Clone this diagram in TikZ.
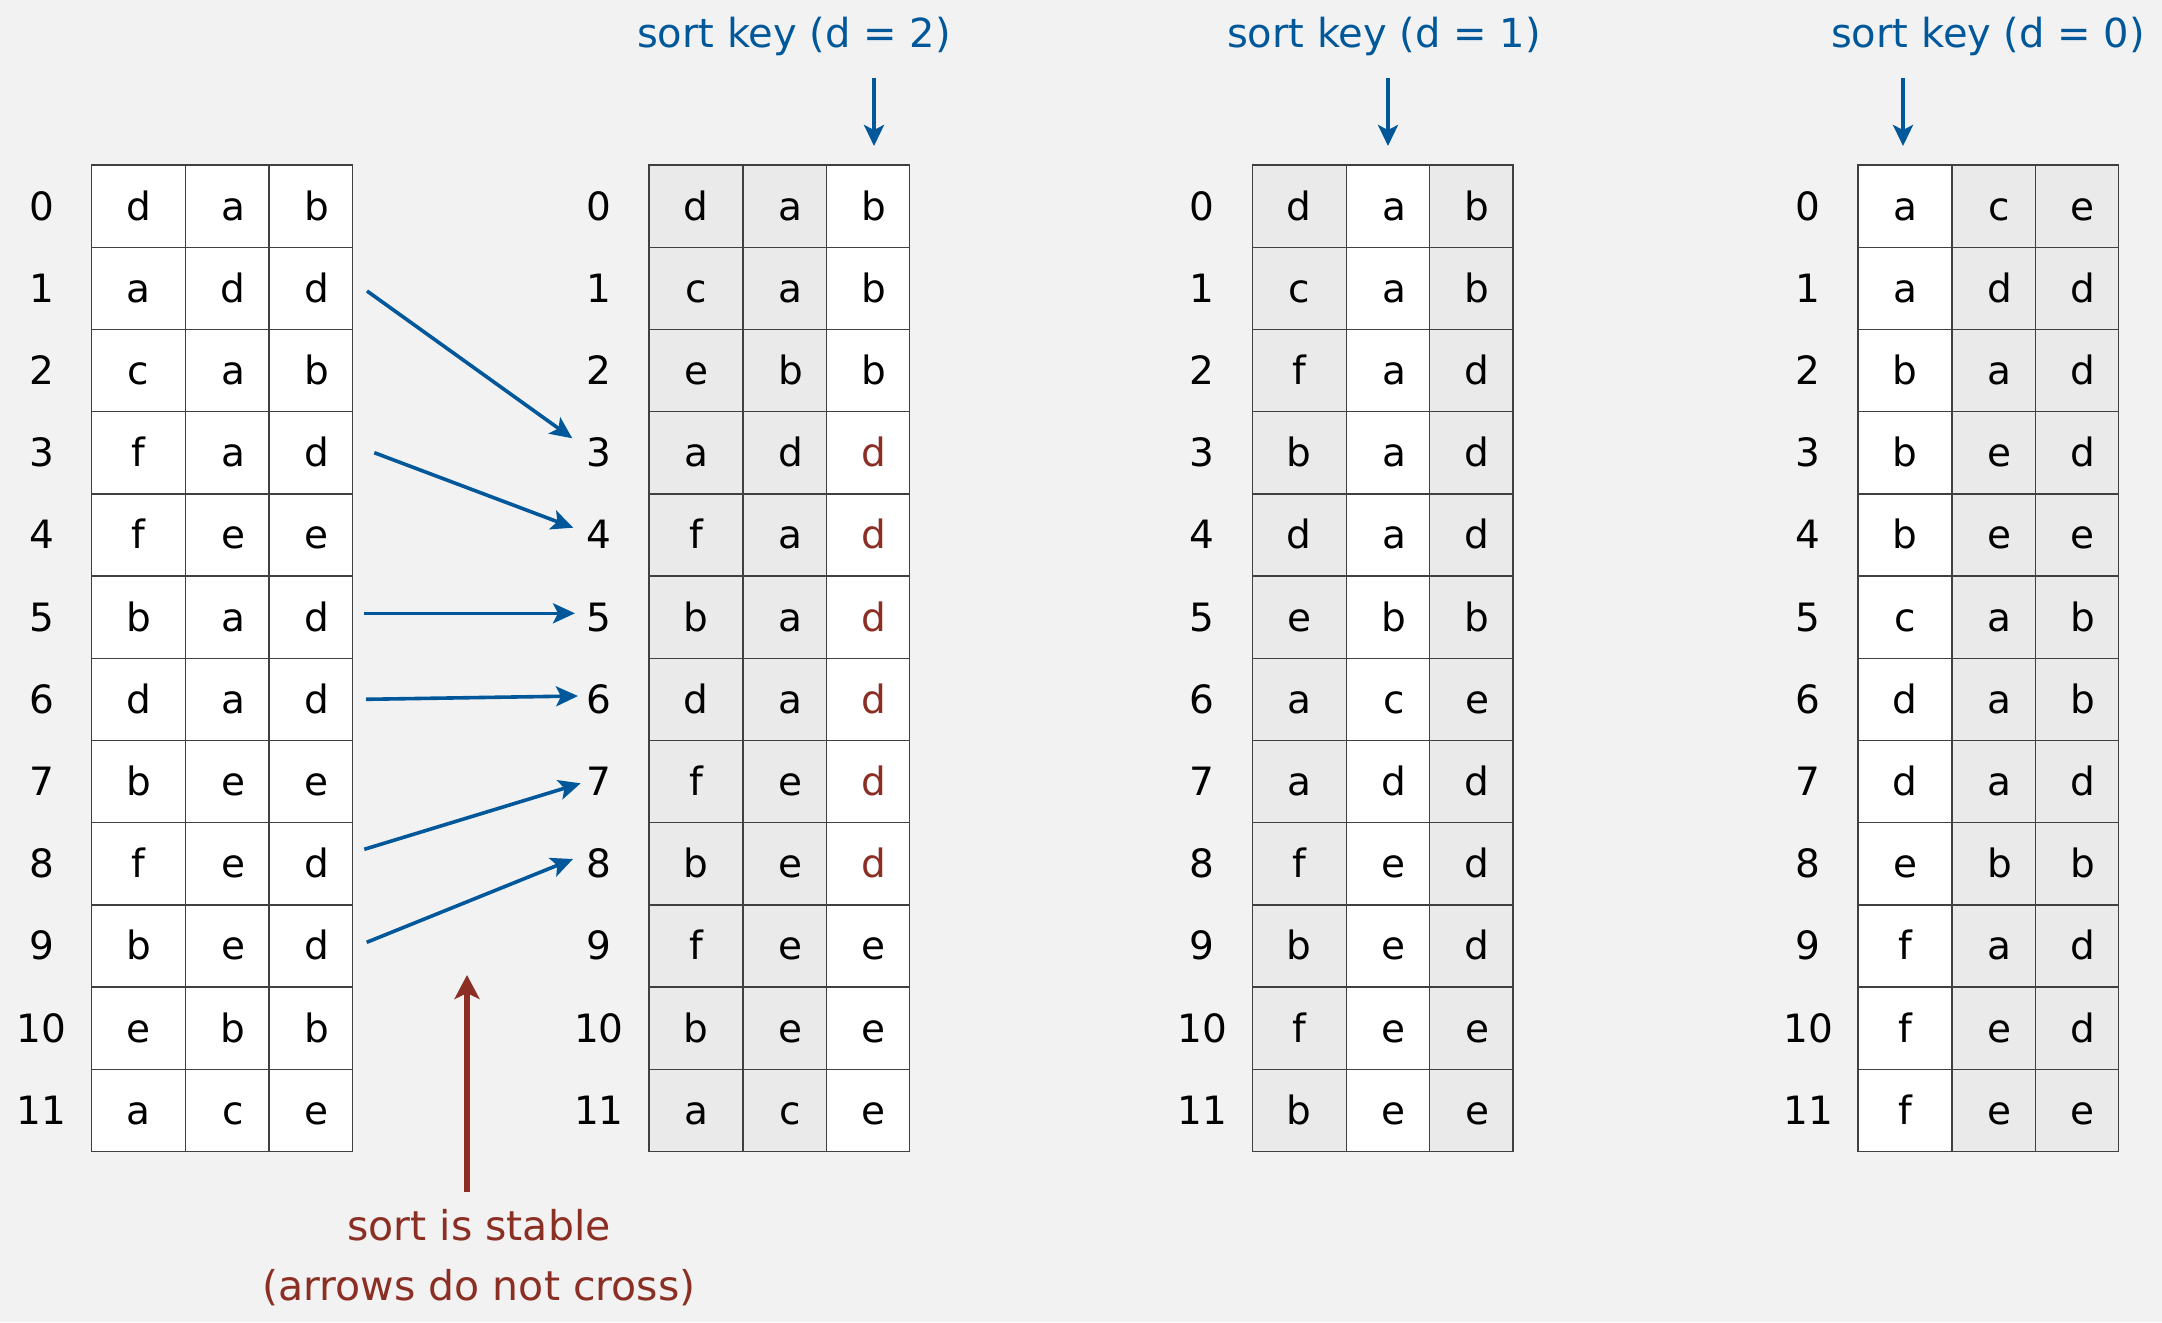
\documentclass[tikz,border=0pt]{standalone}
\usepackage{fontspec}
\setmainfont{DejaVu Sans}
\usetikzlibrary{arrows.meta}
\definecolor{bg}{HTML}{F2F2F2}
\definecolor{cellgray}{HTML}{EAEAEA}
\definecolor{keyblue}{RGB}{0,88,155}
\definecolor{stablered}{RGB}{139,47,36}
\tikzset{
  cell/.style={draw=black!75, line width=0.7pt, inner sep=0pt, minimum height=41.1pt,
               text height=14pt, text depth=0pt},
  idx/.style={inner sep=0pt, text height=14pt, text depth=0pt},
  keytitle/.style={text=keyblue, anchor=base, inner sep=0pt, font=\fontsize{20pt}{24pt}\selectfont},
  keyarrow/.style={draw=keyblue, line width=1.8pt, -{Stealth[length=10.5pt, width=10pt, inset=2.5pt]}},
  movearrow/.style={draw=keyblue, line width=1.8pt, -{Stealth[length=11pt, width=10pt, inset=2.5pt]}},
  stablearrow/.style={draw=stablered, line width=2.6pt, -{Stealth[length=12pt, width=12.5pt, inset=3pt]}},
  stabletext/.style={text=stablered, align=center, inner sep=0pt, anchor=base,
                     font=\fontsize{20.5pt}{30pt}\selectfont},
}
\newcommand\sorttable[6]{%
  \foreach \ca/\cb/\cc/\ccol [count=\r from 0] in {#6} {
    \pgfmathsetmacro\yc{165+82.2*(\r+0.5)}
    \node[cell, minimum width=47pt, fill=#3] (t#1-\r-0) at (#2+47, \yc) {\ca};
    \node[cell, minimum width=41.65pt, fill=#4] (t#1-\r-1) at (#2+94+41.65, \yc) {\hspace*{6pt}\cb};
    \node[cell, minimum width=41.65pt, fill=#5, text=\ccol] (t#1-\r-2) at (#2+94+83.3+41.65, \yc) {\hspace*{6pt}\cc};
    \node[idx] (l#1-\r) at (#2-50, \yc) {\r};
  }%
}
\begin{document}
\begin{tikzpicture}[x=0.5pt, y=-0.5pt, font=\fontsize{19.5pt}{23pt}\selectfont]
\fill[bg] (0,0) rectangle (2162,1322);
\useasboundingbox (0,0) rectangle (2162,1322);

% table 1 (input)
\sorttable{1}{91.7}{white}{white}{white}{%
  d/a/b/black, a/d/d/black, c/a/b/black, f/a/d/black, f/e/e/black, b/a/d/black,
  d/a/d/black, b/e/e/black, f/e/d/black, b/e/d/black, e/b/b/black, a/c/e/black}
% table 2 (after sort on d = 2)
\sorttable{2}{649}{cellgray}{cellgray}{white}{%
  d/a/b/black, c/a/b/black, e/b/b/black, a/d/d/stablered, f/a/d/stablered, b/a/d/stablered,
  d/a/d/stablered, f/e/d/stablered, b/e/d/stablered, f/e/e/black, b/e/e/black, a/c/e/black}
% table 3 (after sort on d = 1)
\sorttable{3}{1252.3}{cellgray}{white}{cellgray}{%
  d/a/b/black, c/a/b/black, f/a/d/black, b/a/d/black, d/a/d/black, e/b/b/black,
  a/c/e/black, a/d/d/black, f/e/d/black, b/e/d/black, f/e/e/black, b/e/e/black}
% table 4 (after sort on d = 0)
\sorttable{4}{1858}{white}{cellgray}{cellgray}{%
  a/c/e/black, a/d/d/black, b/a/d/black, b/e/d/black, b/e/e/black, c/a/b/black,
  d/a/b/black, d/a/d/black, e/b/b/black, f/a/d/black, f/e/d/black, f/e/e/black}

% sort key titles and arrows
\node[keytitle] (k2) at (794,48) {sort key (d = 2)};
\node[keytitle] (k1) at (1384,48) {sort key (d = 1)};
\node[keytitle] (k0) at (1988,48) {sort key (d = 0)};
\coordinate (k2s) at (874,78);   \coordinate (k2e) at (874,146);
\coordinate (k1s) at (1388,78);  \coordinate (k1e) at (1388,146);
\coordinate (k0s) at (1903,78);  \coordinate (k0e) at (1903,146);
\draw[keyarrow] (k2s) -- (k2e);
\draw[keyarrow] (k1s) -- (k1e);
\draw[keyarrow] (k0s) -- (k0e);

% stable moves
\draw[movearrow] ([xshift=7pt, yshift=-1.35pt]t1-1-2.east) -- ([xshift=-13.35pt, yshift=7.2pt]l2-3.center);
\draw[movearrow] ([xshift=10.65pt]t1-3-2.east) -- ([xshift=-12.85pt, yshift=3.6pt]l2-4.center);
\draw[movearrow] ([xshift=5.35pt, yshift=1.9pt]t1-5-2.east) -- ([xshift=-12pt, yshift=1.9pt]l2-5.center);
\draw[movearrow] ([xshift=6.5pt]t1-6-2.east) -- ([xshift=-10.5pt, yshift=1.65pt]l2-6.center);
\draw[movearrow] ([xshift=5.65pt, yshift=7.2pt]t1-8-2.east) -- ([xshift=-9.15pt, yshift=-0.9pt]l2-7.center);
\draw[movearrow] ([xshift=6.85pt, yshift=1.8pt]t1-9-2.east) -- ([xshift=-13pt, yshift=2.35pt]l2-8.center);

% stability note
\node[stabletext] (stable) at (479,1300) {sort is stable\\(arrows do not cross)};
\coordinate (rs) at (467,1192);
\coordinate (re) at (467,975);
\draw[stablearrow] (rs) -- (re);
\end{tikzpicture}
\end{document}
